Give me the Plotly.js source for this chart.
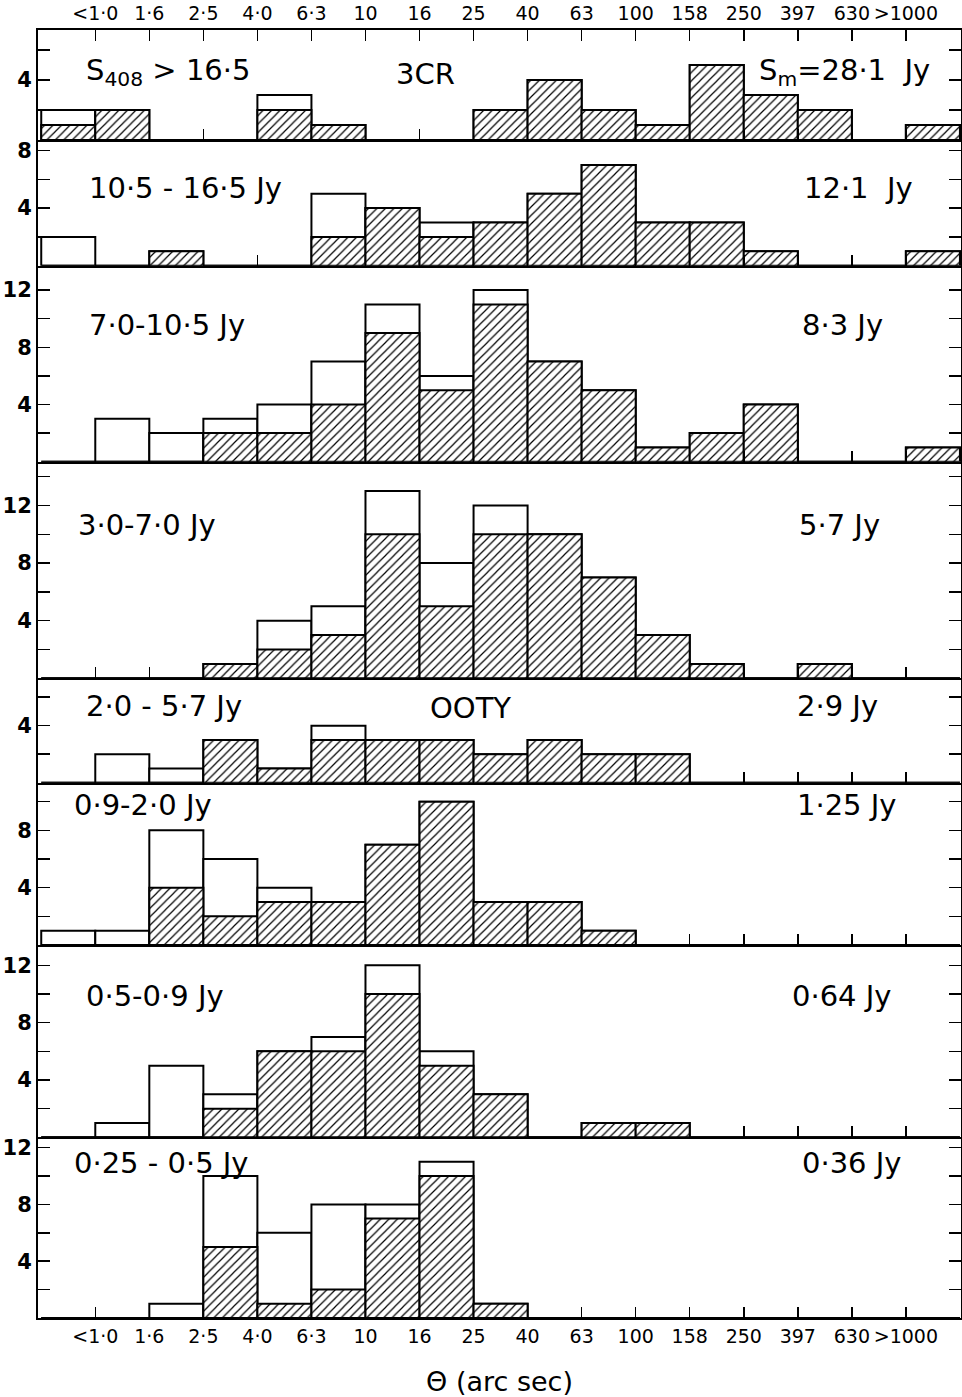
<!DOCTYPE html>
<html>
<head>
<meta charset="utf-8">
<script src="https://cdn.plot.ly/plotly-3.0.1.min.js"></script>
<style>html,body{margin:0;padding:0;background:#fff;}#chart{width:962px;height:1397px;}</style>
</head>
<body>
<div id="chart"></div>
<script>
// Bin edge tick labels (angular size, arc sec)
const edgeLabels = ['<1·0','1·6','2·5','4·0','6·3','10','16','25','40','63','100','158','250','397','630','>1000'];

// Panel labels (flux-density ranges) and median flux labels
const rangeLabels = ['S<sub>408</sub> > 16·5','10·5 - 16·5 Jy','7·0-10·5 Jy','3·0-7·0 Jy','2·0 - 5·7 Jy','0·9-2·0 Jy','0·5-0·9 Jy','0·25 - 0·5 Jy'];
const medianLabels = ['S<sub>m</sub>=28·1\u00a0\u00a0Jy','12·1\u00a0\u00a0Jy','8·3 Jy','5·7 Jy','2·9 Jy','1·25 Jy','0·64 Jy','0·36 Jy'];
const surveyLabels = ['3CR','','','','OOTY','','',''];

// Counts per bin (17 bins: <1.0 ... >1000), total (open) and hatched
const total1   = [2,2,0,0,3,1,0,0,2,4,2,1,5,3,2,0,1];
const hatched1 = [1,2,0,0,2,1,0,0,2,4,2,1,5,3,2,0,1];
const total2   = [2,0,1,0,0,5,4,3,3,5,7,3,3,1,0,0,1];
const hatched2 = [0,0,1,0,0,2,4,2,3,5,7,3,3,1,0,0,1];
const total3   = [0,3,2,3,4,7,11,6,12,7,5,1,2,4,0,0,1];
const hatched3 = [0,0,0,2,2,4,9,5,11,7,5,1,2,4,0,0,1];
const total4   = [0,0,0,1,4,5,13,8,12,10,7,3,1,0,1,0,0];
const hatched4 = [0,0,0,1,2,3,10,5,10,10,7,3,1,0,1,0,0];
const total5   = [0,2,1,3,1,4,3,3,2,3,2,2,0,0,0,0,0];
const hatched5 = [0,0,0,3,1,3,3,3,2,3,2,2,0,0,0,0,0];
const total6   = [1,1,8,6,4,3,7,10,3,3,1,0,0,0,0,0,0];
const hatched6 = [0,0,4,2,3,3,7,10,3,3,1,0,0,0,0,0,0];
const total7   = [0,1,5,3,6,7,12,6,3,0,1,1,0,0,0,0,0];
const hatched7 = [0,0,0,2,6,6,10,5,3,0,1,1,0,0,0,0,0];
const total8   = [0,0,1,10,6,8,8,11,1,0,0,0,0,0,0,0,0];
const hatched8 = [0,0,0,5,1,2,7,10,1,0,0,0,0,0,0,0,0];

const totals = [total1,total2,total3,total4,total5,total6,total7,total8];
const hatcheds = [hatched1,hatched2,hatched3,hatched4,hatched5,hatched6,hatched7,hatched8];

// ---- layout geometry (pixels) ----
const W = 962, H = 1397;
const ML = 38, MR = 1, MT = 30, MB = 79;
const plotW = W - ML - MR, plotH = H - MT - MB;
const panelEdges = [30,140,265.7,461.7,678.3,782.7,945,1137.3,1318];
const unitPx = [15,14.4,14.3,14.4,14.25,14.33,14.33,14.2];
const labelY = [72,188,325,525,706,805,996,1163];
const rangeX = [84,87,87,76,84,72,84,72];
const medianX = [757,802,800,797,795,795,790,800];
const surveyX = [425,0,0,0,470,0,0,0];

const px2x = p => (p - ML) / plotW;
const py2y = p => (H - MB - p) / plotH;

const FONT = 'DejaVu Sans, Liberation Sans, sans-serif';
const binCenters = totals[0].map((_, i) => i + 0.5);
const edgeVals = edgeLabels.map((_, i) => i + 1);

const data = [];
const layout = {
  width: W, height: H,
  margin: {l: ML, r: MR, t: MT, b: MB},
  paper_bgcolor: '#fff', plot_bgcolor: '#fff',
  showlegend: false,
  barmode: 'overlay',
  font: {family: FONT, color: '#000'},
  annotations: []
};

for (let p = 0; p < 8; p++) {
  const n = p + 1;
  const xa = n === 1 ? 'x' : 'x' + n;
  const ya = n === 1 ? 'y' : 'y' + n;
  const top = panelEdges[p], bot = panelEdges[p + 1];
  const yMax = (bot - top) / unitPx[p];

  data.push({
    type: 'bar', x: binCenters, y: totals[p], width: 1, xaxis: xa, yaxis: ya,
    marker: {color: '#ffffff', line: {color: '#000', width: 2}},
    hoverinfo: 'skip'
  });
  data.push({
    type: 'bar', x: binCenters, y: hatcheds[p], width: 1, xaxis: xa, yaxis: ya,
    marker: {color: '#ffffff', line: {color: '#000', width: 2},
      pattern: {shape: '/', fgcolor: '#000', bgcolor: '#fff', size: 6, solidity: 0.2}},
    hoverinfo: 'skip'
  });

  const majorV = [], minorV = [];
  for (let v = 2; v <= yMax - 0.6; v += 2) { (v % 4 === 0 ? majorV : minorV).push(v); }

  const xKey = n === 1 ? 'xaxis' : 'xaxis' + n;
  const yKey = n === 1 ? 'yaxis' : 'yaxis' + n;
  const xAxis = {
    anchor: ya, range: [-0.06, 17.02], showgrid: false, zeroline: false,
    showline: true, linecolor: '#000', linewidth: 2,
    tickmode: 'array', tickvals: edgeVals, ticktext: edgeLabels,
    ticks: 'inside', ticklen: 11, tickwidth: 1.5, tickcolor: '#000',
    showticklabels: false,
    tickfont: {family: FONT, size: 19, color: '#000'}
  };
  if (n !== 1) xAxis.matches = 'x';
  if (n === 1) { xAxis.side = 'top'; xAxis.mirror = 'ticks'; xAxis.showticklabels = true; }
  if (n === 8) {
    xAxis.showticklabels = true;
    xAxis.title = {text: 'Θ (arc sec)', font: {family: FONT, size: 27, color: '#000'}, standoff: 28};
  }
  layout[xKey] = xAxis;
  layout[yKey] = {
    anchor: xa, domain: [py2y(bot), py2y(top)], range: [0, yMax],
    showgrid: false, zeroline: false, showline: true, linecolor: '#000', linewidth: 2,
    mirror: 'ticks', ticks: 'inside', ticklen: 12, tickwidth: 1.5, tickcolor: '#000',
    tickmode: 'array', tickvals: majorV, ticktext: majorV.map(String),
    minor: {tickmode: 'array', tickvals: minorV, ticks: 'inside', ticklen: 12, tickwidth: 1.5, tickcolor: '#000', showgrid: false},
    tickfont: {family: FONT, size: 21, color: '#000', weight: 'bold'}
  };

  layout.annotations.push({
    xref: 'paper', yref: 'paper', x: px2x(rangeX[p]), y: py2y(labelY[p]),
    xanchor: 'left', yanchor: 'middle', showarrow: false, text: rangeLabels[p],
    font: {family: FONT, size: 29, color: '#000'}
  });
  layout.annotations.push({
    xref: 'paper', yref: 'paper', x: px2x(medianX[p]), y: py2y(labelY[p]),
    xanchor: 'left', yanchor: 'middle', showarrow: false, text: medianLabels[p],
    font: {family: FONT, size: 29, color: '#000'}
  });
  if (surveyLabels[p]) {
    layout.annotations.push({
      xref: 'paper', yref: 'paper', x: px2x(surveyX[p]), y: py2y(labelY[p] + 2),
      xanchor: 'center', yanchor: 'middle', showarrow: false, text: surveyLabels[p],
      font: {family: FONT, size: 29, color: '#000'}
    });
  }
}

Plotly.newPlot('chart', data, layout, {staticPlot: true, displayModeBar: false});
</script>
</body>
</html>
